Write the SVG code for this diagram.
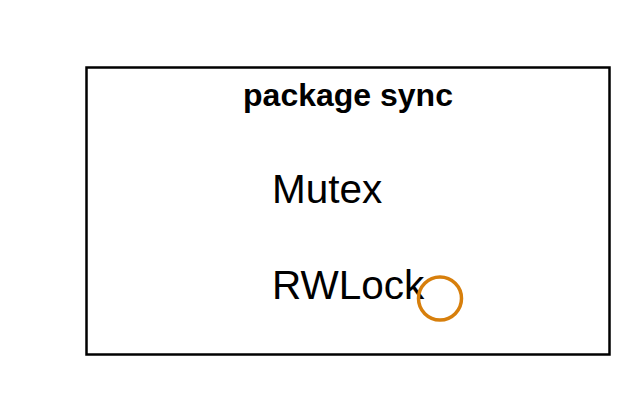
<svg xmlns="http://www.w3.org/2000/svg" width="635" height="405" viewBox="0 0 635 405">
<style>
.lbl{font-family:"Liberation Sans",Arial,sans-serif;fill:#000}
</style>
<rect width="635" height="405" fill="#fff"/>
<g id="package-sync">
<rect x="86.5" y="67.5" width="523" height="287" fill="none" stroke="#000" stroke-width="2.5"/>
<text class="lbl" x="348" y="106" text-anchor="middle" font-size="32" font-weight="bold">package sync</text>
</g>
<g id="mutex">
<text class="lbl" x="272" y="203" font-size="40.5">Mutex</text>
</g>
<g id="rwlock">
<text class="lbl" x="272" y="299" font-size="40.5">RWLock</text>
</g>
<g id="connectors">
<circle cx="440" cy="298.5" r="21.5" fill="none" stroke="#d77f0c" stroke-width="3.5"/>
</g>
</svg>
